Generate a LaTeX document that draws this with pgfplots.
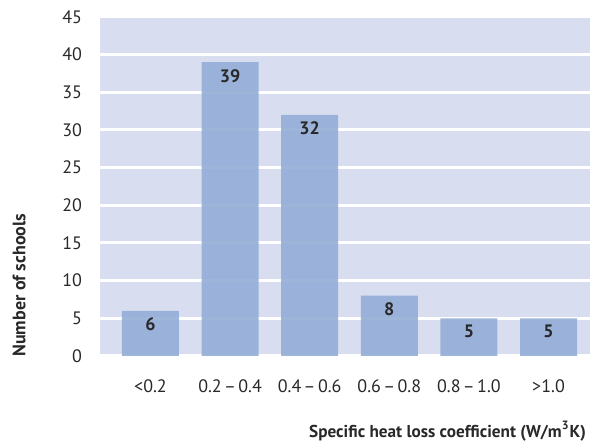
\documentclass[border=0pt]{standalone}
\usepackage{fontspec}
\setmainfont{PT Sans}
\usepackage{pgfplots}
\pgfplotsset{compat=1.18}
\definecolor{bgc}{RGB}{216,222,240}
\definecolor{barc}{RGB}{148,173,215}
\definecolor{txt}{RGB}{40,40,40}
\begin{document}
\begin{tikzpicture}
\begin{axis}[
  scale only axis,
  width=245pt, height=169.5pt,
  xmin=-0.634, xmax=5.521,
  ymin=0, ymax=45,
  ytick={0,5,...,45},
  xtick={0,1,2,3,4,5},
  xticklabels={<0.2, 0.2\kern1.2pt–\kern1.2pt0.4, 0.4\kern1.2pt–\kern1.2pt0.6, 0.6\kern1.2pt–\kern1.2pt0.8, 0.8\kern1.2pt–\kern1.2pt1.0, >1.0},
  /pgf/number format/assume math mode=true,
  tick style={draw=none},
  axis line style={draw=none},
  axis background/.style={fill=bgc},
  ymajorgrids=true,
  major grid style={white, line width=1.5pt},
  font=\fontsize{9pt}{11pt}\selectfont,
  tick label style={text=txt},
  yticklabel style={xshift=-5.5pt},
  xticklabel style={yshift=-4pt},
  ylabel={\bfseries Number of schools},
  ylabel style={at={(rel axis cs:-0.165,0.209)}, anchor=center, text=txt},
  xlabel={\bfseries Specific heat loss coefficient (W/m\textsuperscript{3}K)},
  xlabel style={at={(rel axis cs:1.006,-0.2212)}, anchor=east, text=txt, font=\fontsize{8.6pt}{10pt}\selectfont},
  ybar, bar width=28.5pt,
  nodes near coords,
  nodes near coords style={anchor=north, font=\fontsize{9pt}{11pt}\selectfont\bfseries, text=txt},
]
\addplot[fill=barc, fill opacity=0.9, text opacity=1, draw=none] coordinates {(0,6) (1,39) (2,32) (3,8) (4,5) (5,5)};
\end{axis}
\pgfresetboundingbox
\path[use as bounding box] (-50pt,-43pt) rectangle (245pt,178pt);
\end{tikzpicture}
\end{document}
